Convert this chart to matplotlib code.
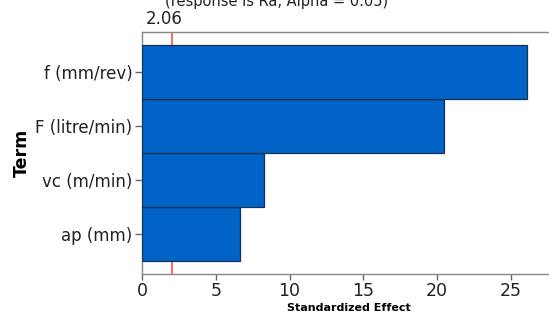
#!/usr/bin/env python3
"""Pareto chart of standardized effects for surface roughness (Ra)."""

import matplotlib
matplotlib.use('Agg')
import matplotlib.pyplot as plt

terms = ['ap (mm)', 'vc (m/min)', 'F (litre/min)', 'f (mm/rev)']
effects = [6.64, 8.27, 20.47, 26.08]
critical = 2.06
x_ticks = [0, 5, 10, 15, 20, 25]


def make_pareto():
    fig = plt.figure(figsize=(5.49, 3.2), dpi=100)
    # axes run slightly past the right edge, like the original export
    ax = fig.add_axes([142 / 549, 46 / 320, 28.0 * 14.76 / 549, 242 / 320])

    pos = list(range(len(terms)))
    ax.barh(pos, effects, height=1.0, color='#0063c8',
            edgecolor='#1a3050', linewidth=0.9, zorder=3)
    # reference line sits behind the bars
    ax.axvline(critical, color='#ff5a5a', linewidth=1.3, zorder=2)

    ax.set_xlim(0, 28.0)
    ax.set_ylim(-0.74, 3.74)
    ax.set_yticks(pos)
    ax.set_yticklabels(terms, fontsize=12, color='#222222')
    ax.set_xticks(x_ticks)
    ax.set_xticklabels([str(t) for t in x_ticks], fontsize=12.5, color='#222222')
    ax.tick_params(axis='y', length=5, width=1, color='#666666', pad=2)
    ax.tick_params(axis='x', length=4, width=1, color='#666666', pad=2)

    for side in ['top', 'bottom', 'left', 'right']:
        ax.spines[side].set_color('#888888')
        ax.spines[side].set_linewidth(1.0)

    ax.set_ylabel('Term', fontsize=12.5, fontweight='bold', labelpad=3)
    ax.set_xlabel('Standardized Effect', fontsize=8, fontweight='bold', labelpad=2)

    ax.annotate(f'{critical:.2f}', xy=(critical, 1.0), xycoords=('data', 'axes fraction'),
                xytext=(7, 3), textcoords='offset points', ha='right', va='bottom',
                fontsize=12, color='#222222')

    fig.text(277 / 549, 1 - 6 / 320, '(response is Ra, Alpha = 0.05)',
             ha='center', va='baseline', fontsize=10.5, color='#222222')

    fig.savefig('out.png', dpi=100, facecolor='white')
    plt.close(fig)


if __name__ == '__main__':
    make_pareto()
